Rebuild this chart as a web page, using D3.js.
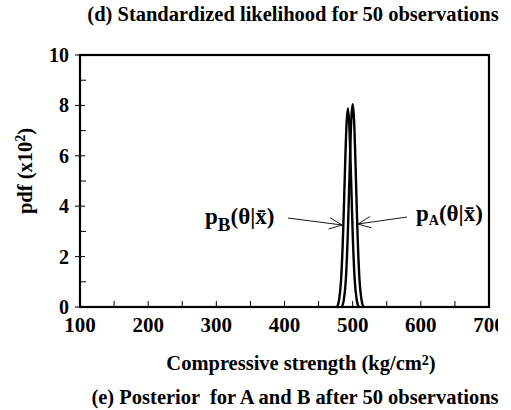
<!DOCTYPE html>
<html>
<head>
<meta charset="utf-8">
<script src="https://cdn.jsdelivr.net/npm/d3@7"></script>
<style>
  body { margin: 0; background: #fff; }
  svg { display: block; font-family: "Liberation Serif", "Times New Roman", serif; }
</style>
</head>
<body>
<svg id="chart" width="511" height="410"></svg>
<script>
/* ---------- data ---------- */
// posterior for A (right curve): compressive strength vs pdf (x10^2)
const strengthA = [484, 487, 490, 493, 496, 498, 500, 502, 504, 507, 510, 513, 516];
const pdfA      = [0, 0.27, 1.09, 3.0, 5.85, 7.45, 8.05, 7.45, 5.85, 3.0, 1.09, 0.27, 0];
// posterior for B (left curve)
const strengthB = [477, 480, 483, 486, 489, 491, 493, 495, 497, 500, 503, 506, 509];
const pdfB      = [0, 0.27, 1.07, 2.95, 5.7, 7.25, 7.88, 7.25, 5.7, 2.95, 1.07, 0.27, 0];

const xTicks = [100, 200, 300, 400, 500, 600, 700];
const xMinorTicks = [150, 250, 350, 450, 550, 650];
const yTicks = [0, 2, 4, 6, 8, 10];
const yMinorTicks = [1, 3, 5, 7, 9];

const topCaption = "(d) Standardized likelihood for 50 observations";
const bottomCaption = "(e) Posterior  for A and B after 50 observations";

/* ---------- layout ---------- */
const svg = d3.select("#chart");
const plotL = 80, plotR = 489, plotT = 55, plotB = 307;

const x = d3.scaleLinear().domain([100, 700]).range([plotL, plotR]);
const y = d3.scaleLinear().domain([0, 10]).range([plotB, plotT]);

// top caption
svg.append("text")
  .attr("x", 293).attr("y", 21)
  .attr("text-anchor", "middle")
  .attr("font-size", 20.5).attr("font-weight", "bold")
  .text(topCaption);

// frame
svg.append("rect")
  .attr("x", plotL).attr("y", plotT)
  .attr("width", plotR - plotL).attr("height", plotB - plotT)
  .attr("fill", "none").attr("stroke", "#000").attr("stroke-width", 2.2);

// y ticks
const yAxis = svg.append("g").attr("stroke", "#000").attr("stroke-width", 1);
yAxis.selectAll(".ymaj").data(yTicks).enter().append("line")
  .attr("x1", plotL - 5).attr("x2", plotL + 5)
  .attr("y1", d => y(d)).attr("y2", d => y(d));
yAxis.selectAll(".ymin").data(yMinorTicks).enter().append("line")
  .attr("x1", plotL).attr("x2", plotL + 6)
  .attr("y1", d => y(d)).attr("y2", d => y(d));

svg.append("g").selectAll("text").data(yTicks).enter().append("text")
  .attr("x", plotL - 11).attr("y", d => y(d))
  .attr("dy", "0.35em")
  .attr("text-anchor", "end")
  .attr("font-size", 20).attr("font-weight", "bold")
  .text(d => d);

// x ticks
const xAxis = svg.append("g").attr("stroke", "#000").attr("stroke-width", 1);
xAxis.selectAll(".xmaj").data(xTicks).enter().append("line")
  .attr("x1", d => x(d)).attr("x2", d => x(d))
  .attr("y1", plotB).attr("y2", plotB - 6);
xAxis.selectAll(".xmin").data(xMinorTicks).enter().append("line")
  .attr("x1", d => x(d)).attr("x2", d => x(d))
  .attr("y1", plotB).attr("y2", plotB - 6);

// the scan cuts the last label off at its right edge
svg.append("clipPath").attr("id", "scanEdge")
  .append("rect").attr("x", 0).attr("y", 0).attr("width", 498).attr("height", 410);

svg.append("g").attr("clip-path", "url(#scanEdge)")
  .selectAll("text").data(xTicks).enter().append("text")
  .attr("x", d => x(d)).attr("y", 332)
  .attr("text-anchor", "middle")
  .attr("font-size", 21).attr("font-weight", "bold")
  .text(d => d);

// x axis title
const xTitle = svg.append("text")
  .attr("x", 301).attr("y", 370)
  .attr("text-anchor", "middle")
  .attr("font-size", 20.5).attr("font-weight", "bold");
xTitle.append("tspan").text("Compressive strength (kg/cm");
xTitle.append("tspan").attr("font-size", 14).attr("dy", -5).text("2");
xTitle.append("tspan").attr("dy", 5).text(")");

// y axis title
const yTitle = svg.append("text")
  .attr("transform", "translate(32,171) rotate(-90)")
  .attr("text-anchor", "middle")
  .attr("font-size", 20.5).attr("font-weight", "bold");
yTitle.append("tspan").text("pdf (x10");
yTitle.append("tspan").attr("font-size", 14).attr("dy", -7).text("2");
yTitle.append("tspan").attr("dy", 7).text(")");

// bottom caption
svg.append("text")
  .attr("x", 295).attr("y", 404)
  .attr("text-anchor", "middle")
  .attr("font-size", 20.5).attr("font-weight", "bold")
  .style("white-space", "pre")
  .text(bottomCaption);

/* ---------- curves ---------- */
const line = d3.line()
  .x(d => x(d[0]))
  .y(d => y(d[1]))
  .curve(d3.curveMonotoneX);

const curves = [
  d3.zip(strengthB, pdfB),
  d3.zip(strengthA, pdfA)
];

svg.append("g").selectAll("path").data(curves).enter().append("path")
  .attr("d", line)
  .attr("fill", "none")
  .attr("stroke", "#000")
  .attr("stroke-width", 2.4);

/* ---------- labels with arrows ---------- */
function arrow(x1, y1, x2, y2) {
  const g = svg.append("g").attr("stroke", "#000").attr("stroke-width", 0.9).attr("fill", "none");
  g.append("line").attr("x1", x1).attr("y1", y1).attr("x2", x2).attr("y2", y2);
  const ang = Math.atan2(y2 - y1, x2 - x1);
  const len = 14, spread = 0.42;
  [1, -1].forEach(s => {
    g.append("line")
      .attr("x1", x2).attr("y1", y2)
      .attr("x2", x2 - len * Math.cos(ang + s * spread))
      .attr("y2", y2 - len * Math.sin(ang + s * spread));
  });
}

// B label
const labB = svg.append("text")
  .attr("x", 205).attr("y", 224)
  .attr("font-size", 23).attr("font-weight", "bold");
labB.append("tspan").text("p");
labB.append("tspan").attr("font-size", 19).attr("dy", 7).text("B");
labB.append("tspan").attr("dy", -7).text("(θ|x\u0304)");
arrow(288, 218, 342, 225);

// A label
const labA = svg.append("text")
  .attr("x", 416).attr("y", 221)
  .attr("font-size", 23).attr("font-weight", "bold");
labA.append("tspan").text("p");
labA.append("tspan").attr("font-size", 14).attr("dy", 4).text("A");
labA.append("tspan").attr("dy", -4).text("(θ|x\u0304)");
arrow(407, 217, 358, 224);
</script>
</body>
</html>
